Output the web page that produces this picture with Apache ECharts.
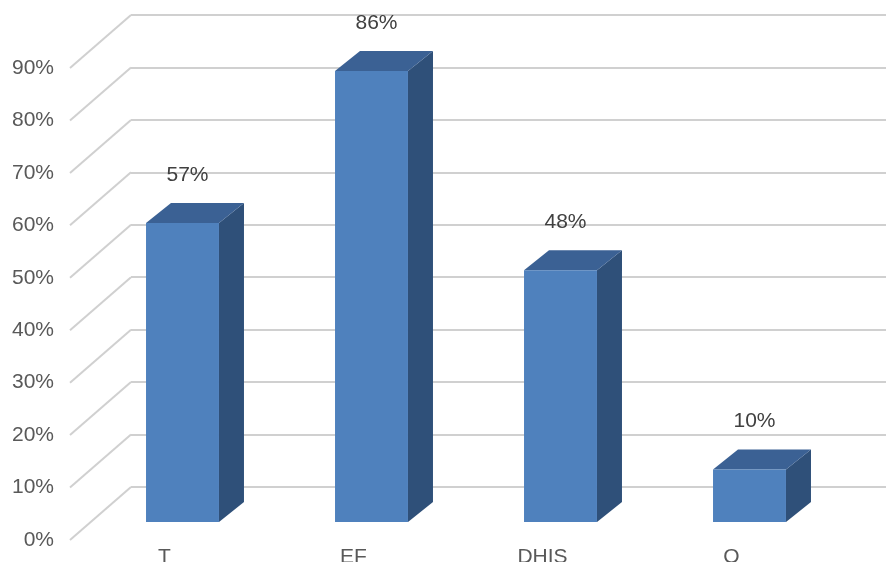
<!DOCTYPE html>
<html>
<head>
<meta charset="utf-8">
<script src="https://cdn.jsdelivr.net/npm/echarts@6/dist/echarts.min.js"></script>
<style>
html,body{margin:0;padding:0;background:#fff;}
#chart{width:886px;height:562px;}
</style>
</head>
<body>
<div id="chart"></div>
<script>
// ---- data ----
var categories = ['T', 'EF', 'DHIS', 'O'];
var values = [0.57, 0.86, 0.48, 0.10];
var yTicks = [0, 0.1, 0.2, 0.3, 0.4, 0.5, 0.6, 0.7, 0.8, 0.9];

// ---- style constants ----
var FONT = 'Liberation Sans';
var WALL_DX = 61, WALL_DY = -53;   // depth of the floor / side wall
var BAR_OX = 18, BAR_OY = -18;     // bar plane offset from front plane
var BAR_DX = 25, BAR_DY = -20;     // bar depth
var GRID_COLOR = '#d0d0d0';

var chart = echarts.init(document.getElementById('chart'));

function pct(v) { return Math.round(v * 100) + '%'; }

var option = {
  backgroundColor: '#ffffff',
  animation: false,
  grid: [
    { left: 70, right: 60, top: 68, bottom: 22, containLabel: false, outerBoundsMode: 'none' },   // front plane
    { left: 131, right: 0, top: 15, bottom: 75, containLabel: false, outerBoundsMode: 'none' }     // back wall
  ],
  xAxis: [
    {
      type: 'category', gridIndex: 0, data: categories,
      axisLine: { show: false }, axisTick: { show: false },
      axisLabel: { color: '#595959', fontFamily: FONT, fontSize: 21, margin: 7 }
    },
    {
      type: 'category', gridIndex: 1, data: categories, show: false
    }
  ],
  yAxis: [
    {
      type: 'value', gridIndex: 0, min: 0, max: 0.9, interval: 0.1,
      axisLine: { show: false }, axisTick: { show: false },
      splitLine: { show: false },
      axisLabel: { color: '#595959', fontFamily: FONT, fontSize: 21, margin: 16, formatter: pct }
    },
    {
      type: 'value', gridIndex: 1, min: 0, max: 0.9, interval: 0.1,
      axisLine: { show: false }, axisTick: { show: false },
      axisLabel: { show: false },
      splitLine: { show: true, lineStyle: { color: GRID_COLOR, width: 2 } }
    }
  ],
  series: [
    {
      // diagonal side-wall lines for each tick
      type: 'custom', xAxisIndex: 0, yAxisIndex: 0, silent: true, z: 1,
      data: yTicks.map(function (t) { return [0, t]; }),
      renderItem: function (params, api) {
        var p = api.coord([0, api.value(1)]);
        var x0 = params.coordSys.x;
        return {
          type: 'line',
          shape: { x1: x0, y1: p[1], x2: x0 + WALL_DX, y2: p[1] + WALL_DY },
          style: { stroke: GRID_COLOR, lineWidth: 2 }
        };
      }
    },
    {
      // 3D columns
      type: 'custom', xAxisIndex: 0, yAxisIndex: 0, z: 3,
      data: values.map(function (v, i) { return [i, v]; }),
      renderItem: function (params, api) {
        var i = api.value(0), v = api.value(1);
        var base = api.coord([i, 0]);
        var top = api.coord([i, v]);
        var w = api.size([1, 0])[0] * 0.386;
        var x0 = base[0] + BAR_OX - w / 2, x1 = x0 + w;
        var yb = base[1] + BAR_OY, yt = top[1] + BAR_OY;
        return {
          type: 'group',
          children: [
            { type: 'polygon', shape: { points: [[x1, yt], [x1 + BAR_DX, yt + BAR_DY], [x1 + BAR_DX, yb + BAR_DY], [x1, yb]] },
              style: { fill: '#2f5079' } },
            { type: 'polygon', shape: { points: [[x0, yt], [x1, yt], [x1 + BAR_DX, yt + BAR_DY], [x0 + BAR_DX, yt + BAR_DY]] },
              style: { fill: '#3b6194' } },
            { type: 'rect', shape: { x: x0, y: yt, width: w, height: yb - yt },
              style: { fill: '#4f81bd' } },
            { type: 'text', x: (x0 + x1) / 2 + 5, y: yt - 48,
              style: { text: pct(v), fill: '#404040', font: '21px "' + FONT + '"', align: 'center', verticalAlign: 'middle' } }
          ]
        };
      }
    }
  ]
};
chart.setOption(option);
</script>
</body>
</html>
